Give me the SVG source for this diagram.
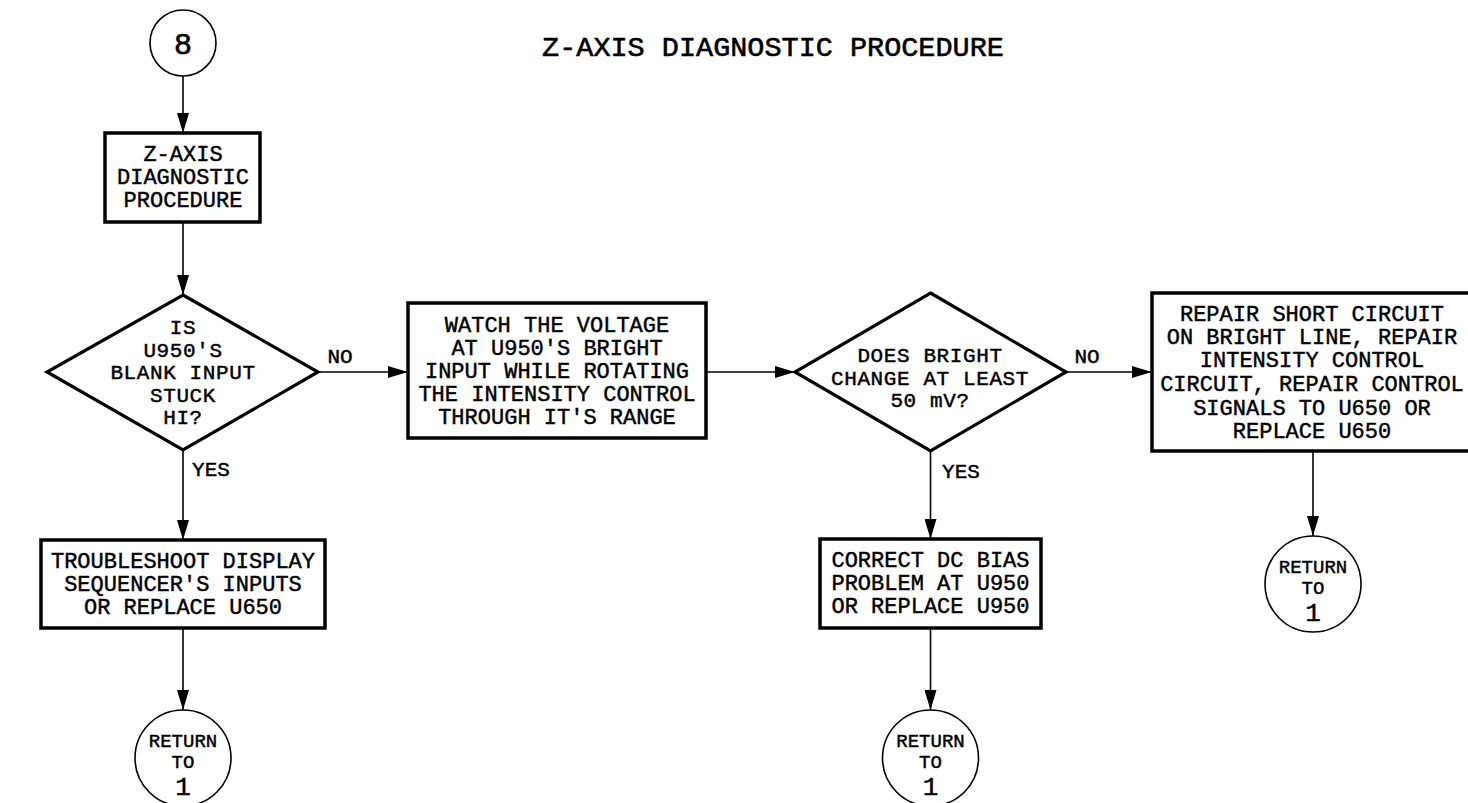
<svg xmlns="http://www.w3.org/2000/svg" width="1468" height="803" viewBox="0 0 1468 803">
<style>
text{font-family:"Liberation Mono","DejaVu Sans Mono",monospace;fill:#000;text-anchor:middle;stroke:#000;stroke-width:0.45}
.t{font-size:22px}
.d{font-size:21px;letter-spacing:0.6px}
.title{font-size:28.5px;stroke-width:0.6}
.lbl{font-size:21px}
.ret{font-size:19px}
.one{font-size:26px}
.box{fill:#fff;stroke:#000;stroke-width:3.5}
.dia{fill:#fff;stroke:#000;stroke-width:3.2;stroke-linejoin:miter}
.cir{fill:#fff;stroke:#000;stroke-width:1.6}
.con line{stroke:#000;stroke-width:1.6;marker-end:url(#ah)}
</style>
<defs>
<marker id="ah" markerUnits="userSpaceOnUse" markerWidth="20" markerHeight="12" refX="20" refY="6" orient="auto">
<path d="M0,0 L20,6 L0,12 z" fill="#000"/>
</marker>
</defs>
<rect width="1468" height="803" fill="#fff"/>
<text id="title" class="title" x="773" y="56">Z-AXIS DIAGNOSTIC PROCEDURE</text>

<g class="con">
<line x1="183" y1="76" x2="183" y2="133"/>
<line x1="183" y1="222" x2="183" y2="295"/>
<line x1="318" y1="372" x2="408" y2="372"/>
<line x1="183" y1="450" x2="183" y2="540"/>
<line x1="706" y1="372" x2="795" y2="372"/>
<line x1="1066" y1="372" x2="1152" y2="372"/>
<line x1="930.5" y1="451" x2="930.5" y2="539"/>
<line x1="183" y1="628" x2="183" y2="710"/>
<line x1="930.5" y1="628" x2="930.5" y2="710"/>
<line x1="1313" y1="451" x2="1313" y2="536"/>
</g>
<g id="edge-labels">
<text class="lbl" x="340" y="363">NO</text>
<text class="lbl" x="1087" y="363">NO</text>
<text class="lbl" x="211" y="476">YES</text>
<text class="lbl" x="961" y="478">YES</text>
</g>

<g id="start">
<circle class="cir" cx="183" cy="43" r="33"/>
<text x="183" y="54" style="font-size:30px;stroke-width:0.7">8</text>
</g>

<g id="box-zaxis">
<rect class="box" x="105" y="133" width="155" height="89"/>
<text class="t" x="183" y="161">Z-AXIS</text>
<text class="t" x="183" y="184">DIAGNOSTIC</text>
<text class="t" x="183" y="207">PROCEDURE</text>
</g>

<g id="dec-blank">
<polygon class="dia" points="183,295 318,372 183,450 47,372"/>
<text class="d" x="183" y="334">IS</text>
<text class="d" x="183" y="356.5">U950'S</text>
<text class="d" x="183" y="379">BLANK INPUT</text>
<text class="d" x="183" y="401.5">STUCK</text>
<text class="d" x="183" y="424">HI?</text>
</g>

<g id="box-watch">
<rect class="box" x="408" y="303" width="298" height="135"/>
<text class="t" x="557" y="332">WATCH THE VOLTAGE</text>
<text class="t" x="557" y="355">AT U950'S BRIGHT</text>
<text class="t" x="557" y="378">INPUT WHILE ROTATING</text>
<text class="t" x="557" y="401">THE INTENSITY CONTROL</text>
<text class="t" x="557" y="424">THROUGH IT'S RANGE</text>
</g>

<g id="dec-bright">
<polygon class="dia" points="930.5,293 1066,372 930.5,451 795,372"/>
<text class="d" x="930" y="362">DOES BRIGHT</text>
<text class="d" x="930" y="384.5">CHANGE AT LEAST</text>
<text class="d" x="930" y="407">50 mV?</text>
</g>

<g id="box-repair">
<rect class="box" x="1152" y="293" width="322" height="158"/>
<text class="t" x="1312" y="321">REPAIR SHORT CIRCUIT</text>
<text class="t" x="1312" y="344">ON BRIGHT LINE, REPAIR</text>
<text class="t" x="1312" y="367">INTENSITY CONTROL</text>
<text class="t" x="1312" y="391">CIRCUIT, REPAIR CONTROL</text>
<text class="t" x="1312" y="415">SIGNALS TO U650 OR</text>
<text class="t" x="1312" y="438">REPLACE U650</text>
</g>

<g id="box-troubleshoot">
<rect class="box" x="41" y="540" width="284" height="88"/>
<text class="t" x="183" y="568">TROUBLESHOOT DISPLAY</text>
<text class="t" x="183" y="591">SEQUENCER'S INPUTS</text>
<text class="t" x="183" y="614">OR REPLACE U650</text>
</g>

<g id="box-correct">
<rect class="box" x="820" y="539" width="221" height="89"/>
<text class="t" x="930.5" y="567">CORRECT DC BIAS</text>
<text class="t" x="930.5" y="590">PROBLEM AT U950</text>
<text class="t" x="930.5" y="613">OR REPLACE U950</text>
</g>

<g id="return-1">
<circle class="cir" cx="183" cy="758" r="48"/>
<text class="ret" x="183" y="747">RETURN</text>
<text class="ret" x="183" y="768">TO</text>
<text class="one" x="183" y="795">1</text>
</g>

<g id="return-2">
<circle class="cir" cx="930.5" cy="758" r="48"/>
<text class="ret" x="930.5" y="747">RETURN</text>
<text class="ret" x="930.5" y="768">TO</text>
<text class="one" x="930.5" y="795">1</text>
</g>

<g id="return-3">
<circle class="cir" cx="1313" cy="584" r="48"/>
<text class="ret" x="1313" y="573">RETURN</text>
<text class="ret" x="1313" y="594">TO</text>
<text class="one" x="1313" y="621">1</text>
</g>
</svg>
